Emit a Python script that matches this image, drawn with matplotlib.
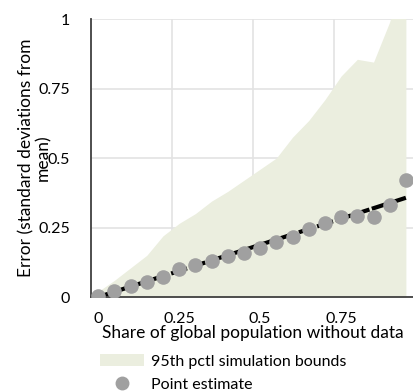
import matplotlib
matplotlib.use("Agg")
import matplotlib.pyplot as plt
from matplotlib.lines import Line2D
from matplotlib.patches import Patch

# data
share = [0, 0.05, 0.1, 0.15, 0.2, 0.25, 0.3, 0.35, 0.4, 0.45,
         0.5, 0.55, 0.6, 0.65, 0.7, 0.75, 0.8, 0.85, 0.9, 0.95]
point_est = [0.005, 0.023, 0.04, 0.053, 0.073, 0.10, 0.115, 0.13, 0.147, 0.16,
             0.177, 0.197, 0.216, 0.243, 0.268, 0.287, 0.292, 0.287, 0.331, 0.42]
upper = [0.02, 0.06, 0.105, 0.15, 0.22, 0.265, 0.30, 0.345, 0.38, 0.42,
         0.46, 0.50, 0.575, 0.635, 0.71, 0.795, 0.855, 0.845, 0.99, 1.2]
lower = [0] * len(share)
trend_x = [0, 0.95]
trend_y = [0, 0.357]
xticks = [0, 0.25, 0.5, 0.75]
xtick_labels = ["0", "0.25", "0.5", "0.75"]
yticks = [0, 0.25, 0.5, 0.75, 1]
ytick_labels = ["0", "0.25", "0.5", "0.75", "1"]

plt.rcParams['font.family'] = ['Lato', 'DejaVu Sans']
fill_col = '#EBEEDF'
pt_col = '#A0A0A0'

fig = plt.figure(figsize=(4.14, 3.92), dpi=100)
ax = fig.add_axes([0.22, 0.2423, 0.78, 0.7092])

ax.fill_between(share, lower, upper, color=fill_col, lw=0, zorder=1)
ax.plot(trend_x, trend_y, color='black', lw=3, ls=(0, (4, 0.6)), zorder=2)
ax.plot(share, point_est, 'o', color=pt_col, ms=10.5, mec='none', zorder=3)

ax.set_xlim(-0.022, 0.975)
ax.set_ylim(0, 1)

# gridlines sit slightly left of the labels in the original
ax.set_xticks(xticks)
ax.set_xticklabels(xtick_labels, fontsize=11.5)
ax.set_xticks([0.228, 0.478, 0.728], minor=True)
ax.set_yticks(yticks)
ax.set_yticklabels(ytick_labels, fontsize=11.5)
ax.tick_params(axis='both', which='both', length=0)
ax.tick_params(axis='x', pad=11)
ax.tick_params(axis='y', pad=15)
ax.grid(True, which='minor', axis='x', color='#E3E3E3', lw=1.2)
ax.grid(True, which='major', axis='y', color='#E3E3E3', lw=1.2)
ax.set_axisbelow(True)

for s in ['top', 'right']:
    ax.spines[s].set_visible(False)
for s in ['left', 'bottom']:
    ax.spines[s].set_color('#404040')
    ax.spines[s].set_linewidth(1.3)

ax.set_xlabel("Share of global population without data", fontsize=12.5, labelpad=-1)
ax.set_ylabel("Error (standard deviations from\nmean)", fontsize=12.5, labelpad=-9,
              linespacing=1.0)

handles = [Patch(color=fill_col, lw=0),
           Line2D([], [], marker='o', ls='none', color=pt_col, ms=10, mec='none')]
fig.legend(handles, ["95th pctl simulation bounds", "Point estimate"],
           loc='upper left', bbox_to_anchor=(0.225, 0.112), frameon=False,
           fontsize=11.5, handlelength=2.8, handletextpad=0.4, labelspacing=0.55,
           borderaxespad=0)

fig.savefig("out.png", dpi=100)
